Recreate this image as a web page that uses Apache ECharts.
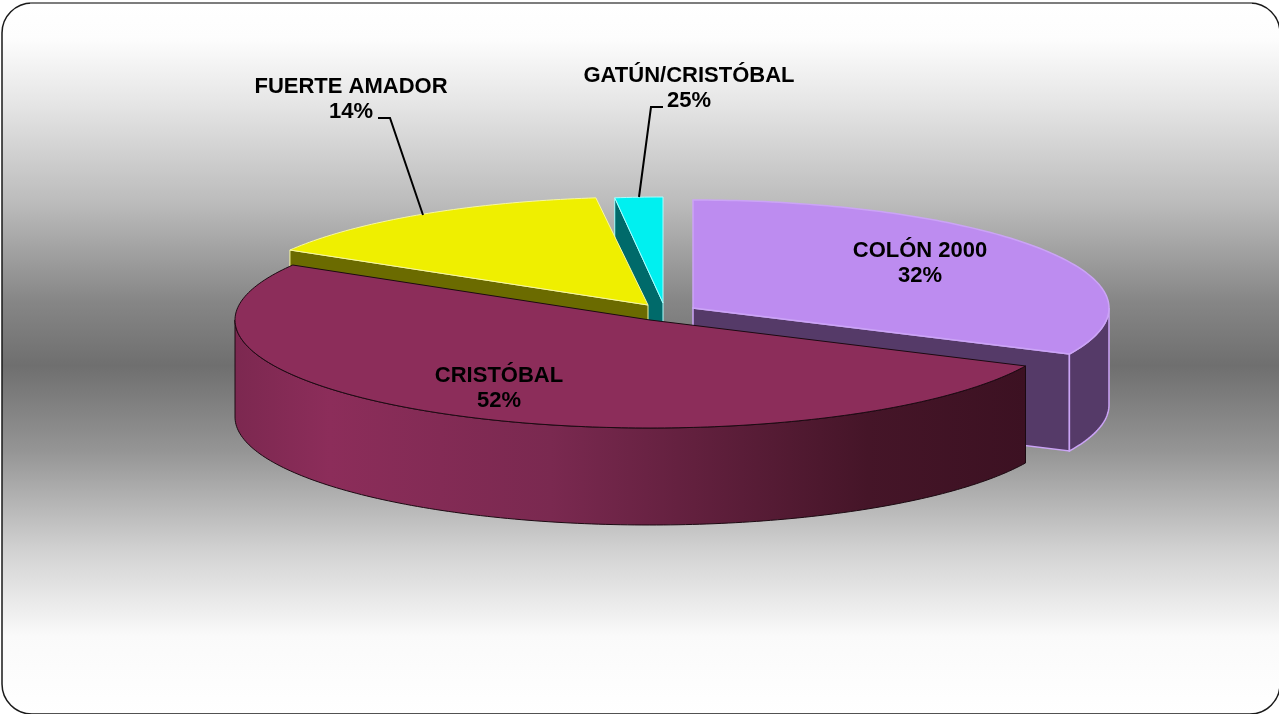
<!DOCTYPE html>
<html>
<head>
<meta charset="utf-8">
<style>html,body{margin:0;padding:0;background:#fff}#c{width:1279px;height:714px}</style>
<script src="https://cdn.jsdelivr.net/npm/echarts@6/dist/echarts.min.js"></script>
</head>
<body>
<div id="c"></div>
<script>
var categories = ["COLÓN 2000", "CRISTÓBAL", "FUERTE AMADOR", "GATÚN/CRISTÓBAL"];
var shares = [32, 51.5, 14.5, 2];
var percentLabels = ["32%", "52%", "14%", "25%"];

/* layout and style of each slice, separate from the data */
var sliceLook = [
  {cx:693, cy:308, rx:416, ry:108, depth:97, top:"#bd8cf0", wall:"#553a68", edge:"#cba4f6", edgeW:1.5, z:3,
   outer:true, radial:"end", label:[920,263]},
  {cx:650, cy:320, rx:415, ry:108, depth:97, top:"#8c2d5a", edge:"#1c0a12", edgeW:1, z:4, outer:true,
   wallGradient:[[0,"#7c2850"],[0.12,"#8c2d5a"],[0.4,"#7a2950"],[0.8,"#451528"],[1,"#3c1122"]],
   label:[499,388]},
  {cx:648, cy:305, rx:416, ry:108, depth:97, top:"#efef00", wall:"#6b6b00", edge:"#f7f7a0", edgeW:1, z:2,
   radial:"start", label:[351,99], leader:[[378,118],[390,118],[423,215]]},
  {cx:663, cy:303, rx:385, ry:106, depth:97, top:"#00f0f0", wall:"#006a6a", edge:"#a8ffff", edgeW:1, z:1,
   radial:"start", label:[689,88], leader:[[663,107],[651,107],[639,197]]}
];

var total = shares.reduce(function(a,b){return a+b;},0);
var cumulative = [0];
shares.forEach(function(v,i){cumulative.push(cumulative[i]+v);});
var toAngle = function(v){return echarts.number.linearMap(v,[0,total],[0,360],true);};

function pt(s,deg,dy){
  var t = deg*Math.PI/180;
  return [s.cx+s.rx*Math.sin(t), s.cy-s.ry*Math.cos(t)+(dy||0)];
}
function arc(s,a,b,dy){
  var out=[], n=Math.max(2,Math.ceil(Math.abs(b-a)));
  for(var k=0;k<=n;k++){out.push(pt(s,a+(b-a)*k/n,dy));}
  return out;
}
function renderSlice(params,api){
  var i=params.dataIndex, s=sliceLook[i];
  var a=toAngle(cumulative[i]), b=toAngle(cumulative[i]+api.value(0));
  var kids=[];
  var wallFill=s.wallGradient ? new echarts.graphic.LinearGradient(0,0,1,0,
      s.wallGradient.map(function(g){return {offset:g[0],color:g[1]};})) : s.wall;
  if(s.radial){
    var r=s.radial==="start"?a:b;
    var edgePt=pt(s,r), edgeLow=pt(s,r,s.depth);
    kids.push({type:"polygon",z2:s.z*10,shape:{points:[[s.cx,s.cy],edgePt,edgeLow,[s.cx,s.cy+s.depth]]},
      style:{fill:s.wall,stroke:s.edge,lineWidth:s.edgeW}});
  }
  if(s.outer){
    var wa=Math.max(a,90), wb=Math.min(b,270);
    var up=arc(s,wa,wb,0), low=arc(s,wb,wa,s.depth);
    kids.push({type:"polygon",z2:s.z*10+1,shape:{points:up.concat(low)},
      style:{fill:wallFill,stroke:s.edge,lineWidth:s.edgeW}});
  }
  kids.push({type:"polygon",z2:s.z*10+2,shape:{points:[[s.cx,s.cy]].concat(arc(s,a,b,0))},
    style:{fill:s.top,stroke:s.edge,lineWidth:s.edgeW}});
  if(s.leader){
    kids.push({type:"polyline",z2:100,shape:{points:s.leader},style:{fill:null,stroke:"#000",lineWidth:2}});
  }
  kids.push({type:"text",z2:101,x:s.label[0],y:s.label[1],
    style:{text:api.value(1)+"\n"+api.value(2),fill:"#000",align:"center",verticalAlign:"middle",
      font:"bold 22px 'Liberation Sans',Arial,sans-serif",lineHeight:25}});
  return {type:"group",children:kids};
}

var chart=echarts.init(document.getElementById("c"),null,{renderer:"canvas"});
chart.setOption({
  animation:false,
  backgroundColor:"#ffffff",
  graphic:[
    {type:"rect",z:-10,silent:true,shape:{x:2,y:3,width:1278,height:711,r:30},
      style:{stroke:"#1a1a1a",lineWidth:1.5,
        fill:new echarts.graphic.LinearGradient(0,0,0,1,[
          {offset:0,color:"#ffffff"},
          {offset:0.05,color:"#fdfdfd"},
          {offset:0.14,color:"#e6e6e6"},
          {offset:0.28,color:"#bcbcbc"},
          {offset:0.42,color:"#868686"},
          {offset:0.51,color:"#6f6f6f"},
          {offset:0.63,color:"#959595"},
          {offset:0.77,color:"#d2d2d2"},
          {offset:0.89,color:"#fafafa"},
          {offset:1,color:"#ffffff"}
        ])}},
    {type:"line",z:-9,silent:true,shape:{x1:30,y1:3,x2:1252,y2:3},style:{stroke:"#8c8c8c",lineWidth:1.5}}
  ],
  series:[{
    type:"custom",
    coordinateSystem:"none",
    silent:true,
    renderItem:renderSlice,
    data:shares.map(function(v,i){return {name:categories[i],value:[v,categories[i],percentLabels[i]]};}),
    dimensions:[{name:"share",type:"number"},{name:"name",type:"ordinal"},{name:"pct",type:"ordinal"}]
  }]
});
</script>
</body>
</html>
